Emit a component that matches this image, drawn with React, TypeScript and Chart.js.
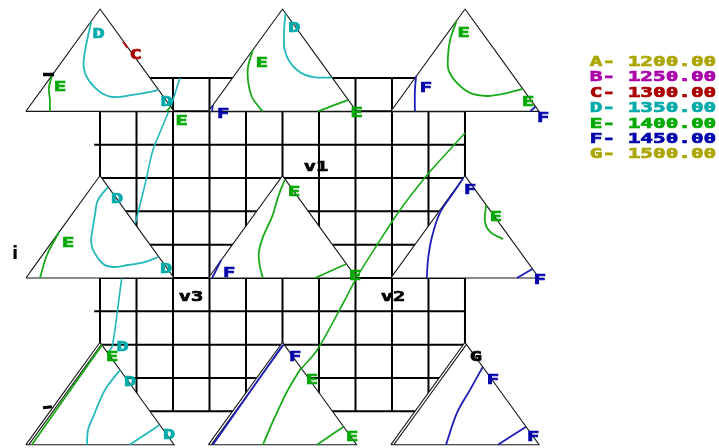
import { useEffect, useRef } from 'react';
import { Chart, registerables } from 'chart.js';

Chart.register(...registerables);

type P = [number, number];
type Lbl = [string, number, number];

// Background grid, in grid cells
const gridColumns = [0, 1, 2, 3, 4, 5, 6, 7, 8, 9, 10];
const gridRows = [0, 1, 2, 3, 4, 5, 6, 7, 8, 9, 10];
const gridRowStarts = [0, 0, -0.16, 0, 0, 0, 0, -0.16, 0, 0, 0];

// Triangle diagrams: apex column and base row on the grid
const triangleColumns = [0, 5, 10];
const triangleBaseRows = [1, 6, 11];

// Contour levels
const levelNames = ['A', 'B', 'C', 'D', 'E', 'F', 'G'];
const levelValues = [1200, 1250, 1300, 1350, 1400, 1450, 1500];
const legendColors = ['#aca600', '#aa00aa', '#aa0000', '#00aaaa', '#00aa00', '#0000aa', '#aca600'];

// Contours inside each triangle, as [u, h]: u across the base (0..1), h up to the apex (0..1)
// top row
const tlD: P[] = [[0.44, 0.87], [0.40, 0.60], [0.39, 0.43], [0.42, 0.31], [0.50, 0.19], [0.59, 0.14], [0.72, 0.16], [0.84, 0.19], [0.895, 0.21]];
const tlC: P[] = [[0.655, 0.68], [0.685, 0.62]];
const tlE: P[] = [[0.178, 0.355], [0.155, 0.23], [0.162, 0.11], [0.162, 0]];
const tlE2: P[] = [[0.95, 0], [0.975, 0.045]];
const tmD: P[] = [[0.52, 0.955], [0.51, 0.77], [0.515, 0.60], [0.55, 0.48], [0.62, 0.38], [0.71, 0.335], [0.835, 0.33]];
const tmE: P[] = [[0.30, 0.60], [0.267, 0.43], [0.267, 0.306], [0.294, 0.14], [0.348, 0.03], [0.368, 0]];
const tmE2: P[] = [[0.74, 0], [0.94, 0.11]];
const tmF: P[] = [[0.03, 0.06], [0.025, 0]];
const trE: P[] = [[0.443, 0.88], [0.40, 0.70], [0.385, 0.53], [0.39, 0.40], [0.446, 0.277], [0.534, 0.18], [0.65, 0.15], [0.757, 0.17], [0.89, 0.22]];
const trF: P[] = [[0.17, 0.345], [0.162, 0.2], [0.162, 0]];
const trF2: P[] = [[0.94, 0], [0.975, 0.045]];
// middle row
const mlD: P[] = [[0.553, 0.89], [0.486, 0.76], [0.466, 0.62], [0.446, 0.44], [0.44, 0.37], [0.453, 0.274], [0.514, 0.147], [0.58, 0.108], [0.69, 0.127], [0.80, 0.156], [0.895, 0.205]];
const mlE: P[] = [[0.225, 0.45], [0.142, 0.225], [0.095, 0]];
const mmE: P[] = [[0.515, 0.96], [0.47, 0.79], [0.43, 0.60], [0.368, 0.40], [0.34, 0.244], [0.348, 0.108], [0.368, 0]];
const mmE2: P[] = [[0.72, 0], [0.93, 0.137]];
const mmF: P[] = [[0.086, 0.175], [0.025, 0]];
const mrF: P[] = [[0.49, 0.98], [0.42, 0.83], [0.33, 0.635], [0.277, 0.40], [0.25, 0.176], [0.243, 0]];
const mrE: P[] = [[0.643, 0.714], [0.635, 0.55], [0.67, 0.45], [0.757, 0.38]];
const mrF2: P[] = [[0.85, 0], [0.955, 0.088]];
// bottom row
const blE: P[] = [[0.04, 0], [0.514, 0.975]];
const blD: P[] = [[0.635, 0.73], [0.534, 0.535], [0.453, 0.27], [0.419, 0.144], [0.412, 0]];
const blD2: P[] = [[0.70, 0], [0.90, 0.19]];
const bmF: P[] = [[0.03, 0], [0.503, 0.975]];
const bmE: P[] = [[0.625, 0.75], [0.537, 0.535], [0.449, 0.271], [0.368, 0]];
const bmE2: P[] = [[0.733, 0], [0.91, 0.173]];
const brF: P[] = [[0.62, 0.76], [0.534, 0.535], [0.446, 0.31], [0.372, 0]];
const brF2: P[] = [[0.723, 0], [0.91, 0.173]];

// Contours that run across the grid, in grid cells
const crossD: P[] = [[2.19, 0], [1.95, 0.81], [1.67, 1.56], [1.45, 2.16], [1.23, 3.21], [0.99, 4.26], [0.77, 5.16], [0.60, 6.0], [0.47, 7.05], [0.33, 8.07], [0.22, 8.22]];
const crossE: P[] = [[10, 1.65], [9.40, 2.37], [8.96, 2.91], [8.22, 3.96], [7.59, 5.01], [7.04, 5.97], [6.71, 6.66], [5.95, 8.16], [5.53, 8.70]];

// Level letters written on each triangle, [letter, u, h]
const tlLabels: Lbl[] = [['D', 0.49, 0.75], ['C', 0.74, 0.55], ['E', 0.23, 0.23], ['D', 0.95, 0.09], ['E', 1.05, -0.095]];
const tmLabels: Lbl[] = [['D', 0.58, 0.81], ['E', 0.36, 0.47], ['E', 1.0, -0.02], ['F', 0.10, -0.03]];
const trLabels: Lbl[] = [['E', 0.49, 0.765], ['F', 0.236, 0.228], ['E', 0.926, 0.09], ['F', 1.027, -0.07]];
const mlLabels: Lbl[] = [['D', 0.615, 0.772], ['D', 0.946, 0.088], ['E', 0.284, 0.342]];
const mmLabels: Lbl[] = [['E', 0.578, 0.841], ['E', 0.99, 0.02], ['F', 0.139, 0.049]];
const mrLabels: Lbl[] = [['F', 0.534, 0.86], ['E', 0.709, 0.596], ['F', 1.006, -0.02]];
const blLabels: Lbl[] = [['E', 0.581, 0.855], ['D', 0.652, 0.955], ['D', 0.703, 0.613], ['D', 0.966, 0.095]];
const bmLabels: Lbl[] = [['F', 0.585, 0.858], ['E', 0.699, 0.632], ['E', 0.97, 0.075]];
const brLabels: Lbl[] = [['G', 0.574, 0.858], ['F', 0.689, 0.632], ['F', 0.959, 0.075]];

// Short black ticks on the left edge of the left-hand triangles
const tlTick: P[] = [[0.115, 0.36], [0.19, 0.36]];
const blTick: P[] = [[0.115, 0.36], [0.175, 0.37]];

// Vertex names, in grid cells
const vertexNames = ['v1', 'v2', 'v3'];
const vertexX = [5.92, 8.03, 2.49];
const vertexY = [2.67, 6.57, 6.57];

// Layout (grid cells)
const X_MIN = -2.74, X_MAX = 16.96, Y_MIN = -2.34, Y_MAX = 11.1;
const TRI_HALF = 2.03, TRI_H = 3.07;
const EDGE_GAP = 0.02;
const LEGEND_X = 13.42, LEGEND_Y0 = -0.47, LEGEND_STEP = 0.462;
const SIDE_MARK: P = [-2.33, 5.28];

const lineColor: Record<string, string> = { C: '#b40a0a', D: '#22b8bc', E: '#18aa18', F: '#1c1cb8' };
const textColor: Record<string, string> = { C: '#aa0000', D: '#00aaaa', E: '#00a800', F: '#0000aa', G: '#000000' };

const contours = [
  { col: 0, row: 0, level: 'D', pts: tlD }, { col: 0, row: 0, level: 'C', pts: tlC },
  { col: 0, row: 0, level: 'E', pts: tlE }, { col: 0, row: 0, level: 'E', pts: tlE2 },
  { col: 1, row: 0, level: 'D', pts: tmD }, { col: 1, row: 0, level: 'E', pts: tmE },
  { col: 1, row: 0, level: 'E', pts: tmE2 }, { col: 1, row: 0, level: 'F', pts: tmF },
  { col: 2, row: 0, level: 'E', pts: trE }, { col: 2, row: 0, level: 'F', pts: trF },
  { col: 2, row: 0, level: 'F', pts: trF2 },
  { col: 0, row: 1, level: 'D', pts: mlD }, { col: 0, row: 1, level: 'E', pts: mlE },
  { col: 1, row: 1, level: 'E', pts: mmE }, { col: 1, row: 1, level: 'E', pts: mmE2 },
  { col: 1, row: 1, level: 'F', pts: mmF },
  { col: 2, row: 1, level: 'F', pts: mrF }, { col: 2, row: 1, level: 'E', pts: mrE },
  { col: 2, row: 1, level: 'F', pts: mrF2 },
  { col: 0, row: 2, level: 'E', pts: blE }, { col: 0, row: 2, level: 'D', pts: blD },
  { col: 0, row: 2, level: 'D', pts: blD2 },
  { col: 1, row: 2, level: 'F', pts: bmF }, { col: 1, row: 2, level: 'E', pts: bmE },
  { col: 1, row: 2, level: 'E', pts: bmE2 },
  { col: 2, row: 2, level: 'F', pts: brF }, { col: 2, row: 2, level: 'F', pts: brF2 },
];

const triangleLabels = [
  { col: 0, row: 0, labels: tlLabels }, { col: 1, row: 0, labels: tmLabels }, { col: 2, row: 0, labels: trLabels },
  { col: 0, row: 1, labels: mlLabels }, { col: 1, row: 1, labels: mmLabels }, { col: 2, row: 1, labels: mrLabels },
  { col: 0, row: 2, labels: blLabels }, { col: 1, row: 2, labels: bmLabels }, { col: 2, row: 2, labels: brLabels },
];

const doubleEdgeRows = [2];

const place = (col: number, row: number, [u, h]: P) => ({
  x: triangleColumns[col] - TRI_HALF + 2 * TRI_HALF * u,
  y: triangleBaseRows[row] - TRI_H * h,
});

const LABEL_FONT = 'bold 14px "DejaVu Sans Mono"';
const STRETCH = 1.45;

const textPlugin = {
  id: 'diagramText',
  afterDatasetsDraw(chart: any) {
    const { ctx } = chart;
    const xs = chart.scales.x;
    const ys = chart.scales.y;
    const put = (text: string, gx: number, gy: number, color: string, font: string, sx: number, align: CanvasTextAlign, heavy = true) => {
      ctx.save();
      ctx.translate(xs.getPixelForValue(gx), ys.getPixelForValue(gy));
      ctx.scale(sx, 1);
      ctx.font = font;
      ctx.fillStyle = color;
      ctx.strokeStyle = color;
      ctx.lineWidth = 0.7;
      ctx.textAlign = align;
      ctx.textBaseline = 'middle';
      ctx.fillText(text, 0, 0);
      if (heavy) ctx.strokeText(text, 0, 0);
      ctx.restore();
    };
    triangleLabels.forEach(({ col, row, labels }) => {
      labels.forEach(([t, u, h]) => {
        const p = place(col, row, [u, h]);
        put(t, p.x, p.y, textColor[t], LABEL_FONT, STRETCH, 'center');
      });
    });
    vertexNames.forEach((name, i) => put(name, vertexX[i], vertexY[i], '#000', LABEL_FONT, STRETCH, 'center'));
    put('i', SIDE_MARK[0], SIDE_MARK[1], '#000', 'bold 18px "DejaVu Sans"', 1, 'center', false);
    levelNames.forEach((name, i) => {
      const text = `${name}- ${levelValues[i].toFixed(2)}`;
      put(text, LEGEND_X, LEGEND_Y0 + i * LEGEND_STEP, legendColors[i], LABEL_FONT, 1.5, 'left');
    });
  },
};

export default function App() {
  const canvasRef = useRef<HTMLCanvasElement>(null);

  useEffect(() => {
    const canvas = canvasRef.current;
    if (!canvas) return;
    const datasets: any[] = [];
    const addLine = (pts: { x: number; y: number }[], color: string, width: number, order: number, extra: any = {}) => {
      datasets.push({
        data: pts,
        borderColor: color,
        borderWidth: width,
        order,
        pointRadius: 0,
        tension: 0.001,
        fill: false,
        ...extra,
      });
    };
    const top = gridRows[0];
    const bottom = gridRows[gridRows.length - 1];
    const right = gridColumns[gridColumns.length - 1];

    // background grid
    gridColumns.forEach((c) => addLine([{ x: c, y: top }, { x: c, y: bottom }], '#000', 2, 60));
    gridRows.forEach((r, i) => addLine([{ x: gridRowStarts[i], y: r }, { x: right, y: r }], '#000', 2, 60));

    // contours crossing the grid
    addLine(crossD.map(([x, y]) => ({ x, y })), lineColor.D, 1.6, 50, { tension: 0.3 });
    addLine(crossE.map(([x, y]) => ({ x, y })), lineColor.E, 1.6, 50, { tension: 0.3 });

    // triangles, white inside
    triangleBaseRows.forEach((_, row) => {
      triangleColumns.forEach((_c, col) => {
        const pts = [place(col, row, [0, 0]), place(col, row, [0.5, 1]), place(col, row, [1, 0]), place(col, row, [0, 0])];
        addLine(pts, '#161616', 1.1, 40, { fill: 'shape', backgroundColor: '#ffffff' });
        if (doubleEdgeRows.includes(row)) {
          const inner = [place(col, row, [EDGE_GAP, 0]), place(col, row, [0.5 + EDGE_GAP / 2, 1 - EDGE_GAP])];
          addLine(inner, '#161616', 1.1, 35);
        }
      });
    });

    // contours inside the triangles
    contours.forEach(({ col, row, level, pts }) => {
      addLine(pts.map((p) => place(col, row, p)), lineColor[level], 1.8, 20, { tension: pts.length > 2 ? 0.35 : 0.001 });
    });

    // edge ticks
    addLine(tlTick.map((p) => place(0, 0, p)), '#000', 3.5, 10);
    addLine(blTick.map((p) => place(0, 2, p)), '#000', 3, 10);

    const chart = new Chart(canvas, {
      type: 'line',
      data: { datasets },
      options: {
        animation: false,
        responsive: true,
        maintainAspectRatio: false,
        events: [],
        layout: { padding: 0 },
        elements: { point: { radius: 0 } },
        plugins: { legend: { display: false }, tooltip: { enabled: false } },
        scales: {
          x: { type: 'linear', min: X_MIN, max: X_MAX, display: false },
          y: { type: 'linear', min: Y_MIN, max: Y_MAX, reverse: true, display: false },
        },
      },
      plugins: [textPlugin],
    });
    return () => chart.destroy();
  }, []);

  return (
    <div style={{ position: 'fixed', left: 0, top: 0, width: 719, height: 448, background: '#fff' }}>
      <canvas ref={canvasRef} />
    </div>
  );
}
